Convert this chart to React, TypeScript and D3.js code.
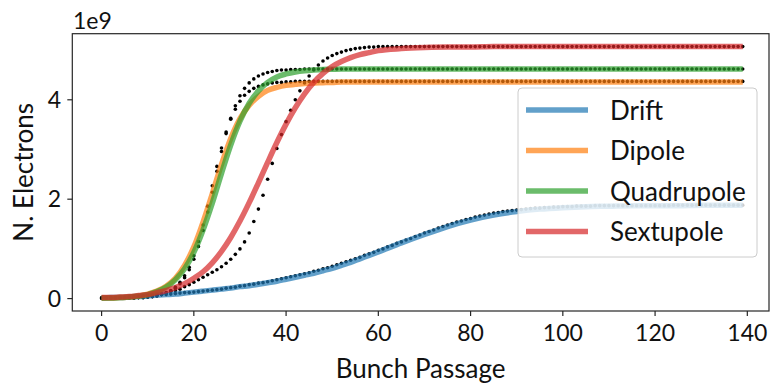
import React from "react";
import * as d3 from "d3";

// bunch passages where the fitted curves are sampled
const fitPassages = [
  0, 2, 4, 6, 8, 10, 12, 14, 16, 18, 20, 22, 24, 26, 28, 30, 32, 34, 36, 38, 40,
  42, 44, 46, 48, 50, 52, 54, 56, 58, 60, 65, 70, 75, 80, 85, 90, 95, 100, 105,
  110, 115, 120, 125, 130, 135, 139,
];

// fitted curves (units of 1e9 electrons)
const driftFit = [
  0.01, 0.02, 0.02, 0.03, 0.04, 0.05, 0.07, 0.08, 0.09, 0.11, 0.13, 0.15, 0.17,
  0.19, 0.21, 0.24, 0.26, 0.29, 0.32, 0.35, 0.39, 0.43, 0.47, 0.51, 0.56, 0.61,
  0.67, 0.73, 0.8, 0.87, 0.94, 1.12, 1.29, 1.45, 1.58, 1.68, 1.75, 1.8, 1.83,
  1.85, 1.86, 1.87, 1.87, 1.87, 1.88, 1.88, 1.88,
];
const dipoleFit = [
  0.01, 0.01, 0.02, 0.03, 0.05, 0.09, 0.15, 0.25, 0.41, 0.67, 1.04, 1.54, 2.11,
  2.7, 3.22, 3.62, 3.89, 4.07, 4.19, 4.25, 4.29, 4.31, 4.33, 4.34, 4.345, 4.35,
  4.36, 4.36, 4.36, 4.36, 4.36, 4.36, 4.36, 4.36, 4.36, 4.36, 4.36, 4.36, 4.36,
  4.36, 4.36, 4.36, 4.36, 4.36, 4.36, 4.36, 4.36,
];
const quadFit = [
  0.01, 0.01, 0.02, 0.03, 0.05, 0.08, 0.14, 0.23, 0.38, 0.6, 0.93, 1.38, 1.92,
  2.52, 3.09, 3.57, 3.93, 4.18, 4.35, 4.46, 4.52, 4.56, 4.585, 4.6, 4.61, 4.615,
  4.62, 4.62, 4.62, 4.62, 4.62, 4.62, 4.62, 4.62, 4.62, 4.62, 4.62, 4.62, 4.62,
  4.62, 4.62, 4.62, 4.62, 4.62, 4.62, 4.62, 4.62,
];
const sextFit = [
  0.02, 0.02, 0.03, 0.04, 0.06, 0.08, 0.12, 0.16, 0.22, 0.3, 0.41, 0.54, 0.72,
  0.95, 1.23, 1.56, 1.93, 2.33, 2.74, 3.14, 3.51, 3.84, 4.12, 4.35, 4.53, 4.67,
  4.77, 4.85, 4.91, 4.95, 4.99, 5.03, 5.05, 5.06, 5.06, 5.07, 5.07, 5.07, 5.07,
  5.07, 5.07, 5.07, 5.07, 5.07, 5.07, 5.07, 5.07,
];

// simulated electrons per bunch passage 0..139 (black dots)
const driftSim = [
  0.01, 0.01, 0.02, 0.02, 0.02, 0.03, 0.03, 0.04, 0.04, 0.05,
  0.06, 0.06, 0.07, 0.08, 0.08, 0.09, 0.1, 0.11, 0.12, 0.12,
  0.13, 0.14, 0.15, 0.16, 0.17, 0.18, 0.19, 0.21, 0.22, 0.23,
  0.25, 0.26, 0.28, 0.29, 0.31, 0.32, 0.34, 0.36, 0.38, 0.4,
  0.42, 0.44, 0.46, 0.48, 0.5, 0.52, 0.55, 0.57, 0.6, 0.62,
  0.65, 0.68, 0.71, 0.74, 0.77, 0.8, 0.83, 0.87, 0.9, 0.93,
  0.97, 1.0, 1.04, 1.07, 1.11, 1.14, 1.18, 1.21, 1.25, 1.28,
  1.32, 1.35, 1.38, 1.42, 1.45, 1.48, 1.51, 1.54, 1.56, 1.59,
  1.61, 1.64, 1.66, 1.68, 1.7, 1.72, 1.73, 1.75, 1.76, 1.77,
  1.78, 1.79, 1.8, 1.81, 1.82, 1.82, 1.83, 1.83, 1.84, 1.84,
  1.85, 1.85, 1.85, 1.86, 1.86, 1.86, 1.86, 1.87, 1.87, 1.87,
  1.87, 1.87, 1.87, 1.87, 1.87, 1.87, 1.87, 1.87, 1.87, 1.87,
  1.87, 1.87, 1.87, 1.87, 1.88, 1.88, 1.88, 1.88, 1.88, 1.88,
  1.88, 1.88, 1.88, 1.88, 1.88, 1.88, 1.88, 1.88, 1.88, 1.88,
];
const dipoleSim = [
  0.01, 0.01, 0.01, 0.01, 0.01, 0.01, 0.01, 0.01, 0.02, 0.02,
  0.03, 0.04, 0.06, 0.08, 0.11, 0.16, 0.23, 0.33, 0.46, 0.63,
  0.86, 1.15, 1.48, 1.86, 2.27, 2.66, 3.03, 3.35, 3.61, 3.81,
  3.97, 4.09, 4.17, 4.23, 4.27, 4.3, 4.32, 4.34, 4.35, 4.35,
  4.36, 4.36, 4.37, 4.37, 4.37, 4.37, 4.37, 4.37, 4.37, 4.37,
  4.37, 4.37, 4.37, 4.37, 4.37, 4.37, 4.37, 4.37, 4.37, 4.37,
  4.37, 4.37, 4.37, 4.37, 4.37, 4.37, 4.37, 4.37, 4.37, 4.37,
  4.37, 4.37, 4.37, 4.37, 4.37, 4.37, 4.37, 4.37, 4.37, 4.37,
  4.37, 4.37, 4.37, 4.37, 4.37, 4.37, 4.37, 4.37, 4.37, 4.37,
  4.37, 4.37, 4.37, 4.37, 4.37, 4.37, 4.37, 4.37, 4.37, 4.37,
  4.37, 4.37, 4.37, 4.37, 4.37, 4.37, 4.37, 4.37, 4.37, 4.37,
  4.37, 4.37, 4.37, 4.37, 4.37, 4.37, 4.37, 4.37, 4.37, 4.37,
  4.37, 4.37, 4.37, 4.37, 4.37, 4.37, 4.37, 4.37, 4.37, 4.37,
  4.37, 4.37, 4.37, 4.37, 4.37, 4.37, 4.37, 4.37, 4.37, 4.37,
];
const quadSim = [
  0.01, 0.01, 0.01, 0.01, 0.01, 0.01, 0.01, 0.01, 0.02, 0.02,
  0.03, 0.04, 0.05, 0.08, 0.11, 0.15, 0.21, 0.3, 0.42, 0.58,
  0.79, 1.05, 1.37, 1.74, 2.14, 2.56, 2.96, 3.32, 3.63, 3.88,
  4.08, 4.23, 4.34, 4.42, 4.48, 4.52, 4.55, 4.57, 4.59, 4.6,
  4.6, 4.61, 4.61, 4.61, 4.62, 4.62, 4.62, 4.62, 4.62, 4.62,
  4.62, 4.62, 4.62, 4.62, 4.62, 4.62, 4.62, 4.62, 4.62, 4.62,
  4.62, 4.62, 4.62, 4.62, 4.62, 4.62, 4.62, 4.62, 4.62, 4.62,
  4.62, 4.62, 4.62, 4.62, 4.62, 4.62, 4.62, 4.62, 4.62, 4.62,
  4.62, 4.62, 4.62, 4.62, 4.62, 4.62, 4.62, 4.62, 4.62, 4.62,
  4.62, 4.62, 4.62, 4.62, 4.62, 4.62, 4.62, 4.62, 4.62, 4.62,
  4.62, 4.62, 4.62, 4.62, 4.62, 4.62, 4.62, 4.62, 4.62, 4.62,
  4.62, 4.62, 4.62, 4.62, 4.62, 4.62, 4.62, 4.62, 4.62, 4.62,
  4.62, 4.62, 4.62, 4.62, 4.62, 4.62, 4.62, 4.62, 4.62, 4.62,
  4.62, 4.62, 4.62, 4.62, 4.62, 4.62, 4.62, 4.62, 4.62, 4.62,
];
const sextSim = [
  0.01, 0.01, 0.01, 0.01, 0.02, 0.02, 0.03, 0.03, 0.04, 0.05,
  0.06, 0.07, 0.08, 0.1, 0.12, 0.14, 0.16, 0.19, 0.24, 0.28,
  0.33, 0.38, 0.43, 0.48, 0.53, 0.58, 0.64, 0.71, 0.79, 0.89,
  1.0, 1.14, 1.32, 1.55, 1.8, 2.08, 2.4, 2.72, 3.02, 3.3,
  3.56, 3.79, 4.0, 4.18, 4.34, 4.48, 4.6, 4.7, 4.78, 4.84,
  4.89, 4.93, 4.96, 4.99, 5.01, 5.03, 5.04, 5.05, 5.06, 5.06,
  5.07, 5.07, 5.07, 5.07, 5.07, 5.07, 5.07, 5.07, 5.07, 5.07,
  5.07, 5.07, 5.07, 5.07, 5.07, 5.07, 5.07, 5.07, 5.07, 5.07,
  5.07, 5.07, 5.07, 5.07, 5.07, 5.07, 5.07, 5.07, 5.07, 5.07,
  5.07, 5.07, 5.07, 5.07, 5.07, 5.07, 5.07, 5.07, 5.07, 5.07,
  5.07, 5.07, 5.07, 5.07, 5.07, 5.07, 5.07, 5.07, 5.07, 5.07,
  5.07, 5.07, 5.07, 5.07, 5.07, 5.07, 5.07, 5.07, 5.07, 5.07,
  5.07, 5.07, 5.07, 5.07, 5.07, 5.07, 5.07, 5.07, 5.07, 5.07,
  5.07, 5.07, 5.07, 5.07, 5.07, 5.07, 5.07, 5.07, 5.07, 5.07,
];

const names = ["Drift", "Dipole", "Quadrupole", "Sextupole"];
const colors = ["#1f77b4", "#ff7f0e", "#2ca02c", "#d62728"];
const fits = [driftFit, dipoleFit, quadFit, sextFit];
const sims = [driftSim, dipoleSim, quadSim, sextSim];

const xTicks = [0, 20, 40, 60, 80, 100, 120, 140];
const yTicks = [0, 2, 4];

const W = 770;
const H = 383;
const font = "Lato, 'DejaVu Sans', sans-serif";

export default function App() {
  const left = 72.3;
  const right = 769;
  const top = 33.7;
  const bottom = 311;

  const x = d3.scaleLinear().domain([-6.35, 144.7]).range([left, right]);
  const y = d3.scaleLinear().domain([-0.25, 5.33]).range([bottom, top]);

  const line = d3
    .line<number>()
    .x((_, i) => x(fitPassages[i]))
    .y((d) => y(d))
    .curve(d3.curveMonotoneX);

  const legX = 518;
  const legY = 88;
  const legW = 239;
  const legH = 169;
  const rowY = [110, 150.5, 191, 231.5];

  return (
    <svg
      width={W}
      height={H}
      style={{ position: "absolute", left: 0, top: 0, background: "#fff" }}
    >
      {/* simulation dots */}
      <g>
        {sims.map((s, k) => (
          <g key={k}>
            {s.map((v, i) => (
              <circle key={i} cx={x(i)} cy={y(v)} r={1.8} fill="#000" />
            ))}
          </g>
        ))}
      </g>

      {/* fitted curves */}
      <g fill="none" strokeLinecap="butt" strokeLinejoin="round">
        {fits.map((f, k) => (
          <path
            key={k}
            d={line(f) ?? ""}
            stroke={colors[k]}
            strokeWidth={5.5}
            strokeOpacity={0.7}
          />
        ))}
      </g>

      {/* axes frame */}
      <rect
        x={left}
        y={top}
        width={right - left}
        height={bottom - top}
        fill="none"
        stroke="#262626"
        strokeWidth={1.2}
      />

      {/* x axis */}
      <g fontFamily={font} fontSize={23} fill="#111">
        {xTicks.map((t) => (
          <g key={t}>
            <line
              x1={x(t)}
              x2={x(t)}
              y1={bottom}
              y2={bottom + 5}
              stroke="#262626"
              strokeWidth={1.2}
            />
            <text x={x(t)} y={341} textAnchor="middle">
              {t}
            </text>
          </g>
        ))}
      </g>

      {/* y axis */}
      <g fontFamily={font} fontSize={23} fill="#111">
        {yTicks.map((t) => (
          <g key={t}>
            <line
              x1={left - 5}
              x2={left}
              y1={y(t)}
              y2={y(t)}
              stroke="#262626"
              strokeWidth={1.2}
            />
            <text x={61} y={y(t) + 8.3} textAnchor="end">
              {t}
            </text>
          </g>
        ))}
        <text x={73} y={29}>
          1e9
        </text>
      </g>

      <text
        x={(left + right) / 2}
        y={378}
        textAnchor="middle"
        fontFamily={font}
        fontSize={26}
        fill="#111"
      >
        Bunch Passage
      </text>
      <text
        transform={`translate(33,${(top + bottom) / 2}) rotate(-90)`}
        textAnchor="middle"
        fontFamily={font}
        fontSize={26}
        fill="#111"
      >
        N. Electrons
      </text>

      {/* legend */}
      <g>
        <rect
          x={legX}
          y={legY}
          width={legW}
          height={legH}
          rx={4}
          fill="#fff"
          fillOpacity={0.8}
          stroke="#cccccc"
          strokeWidth={1}
        />
        {names.map((n, k) => (
          <g key={n}>
            <line
              x1={526}
              x2={588}
              y1={rowY[k]}
              y2={rowY[k]}
              stroke={colors[k]}
              strokeWidth={5.5}
              strokeOpacity={0.7}
            />
            <text
              x={610}
              y={rowY[k] + 9.5}
              fontFamily={font}
              fontSize={26}
              fill="#111"
            >
              {n}
            </text>
          </g>
        ))}
      </g>
    </svg>
  );
}
